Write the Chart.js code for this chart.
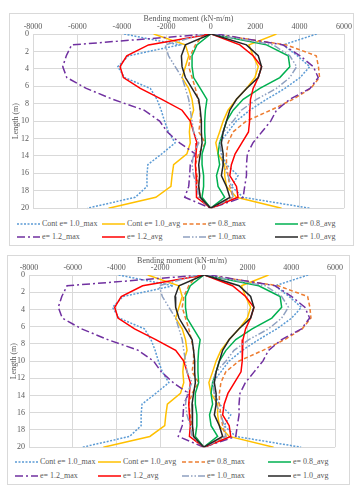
<!DOCTYPE html>
<html>
<head>
<meta charset="utf-8">
<script src="https://cdn.jsdelivr.net/npm/chart.js@4.4.1/dist/chart.umd.min.js"></script>
<style>
  body { margin: 0; background: #fff; width: 364px; height: 490px; position: relative; overflow: hidden; }
  .frame { position: absolute; border: 1px solid #d9d9d9; background: #fff; box-sizing: border-box; }
  .frame canvas { position: absolute; left: 0; top: 0; }
  .lg { position: absolute; font: 8px "Liberation Serif", serif; color: #595959; white-space: nowrap; display: flex; align-items: center; }
  .lg svg { margin-right: 2px; }
</style>
</head>
<body>
<div class="frame" id="f1" style="left:9px;top:13px;width:345px;height:233px;"><canvas id="c1"></canvas></div>
<div class="frame" id="f2" style="left:7px;top:255px;width:343px;height:230px;"><canvas id="c2"></canvas></div>
<script>
const depths = [0, 1.25, 2.5, 3.75, 5, 6.25, 7.5, 8.75, 10, 11.25, 12.5, 13.75, 15, 16.25, 17.5, 18.75, 20];
const xTicks = [-8000, -6000, -4000, -2000, 0, 2000, 4000, 6000];

// left / right envelopes (kN-m/m) at each depth
const contMaxL = [-3900, -1400, -3700, -4180, -3880, -2720, -2420, -2230, -2080, -1900, -1600, -2200, -2830, -2870, -2870, -3400, -5550];
const contMaxR = [4770, 3260, 3900, 4460, 4020, 3340, 2510, 1760, 1150, 780, 400, 480, 710, 1230, 930, 1460, 4450];
const contAvgL = [-2570, -1140, -990, -1140, -1290, -990, -840, -770, -920, -960, -920, -1070, -1670, -1740, -1790, -2470, -4600];
const contAvgR = [2960, 1720, 1910, 2140, 1990, 1610, 1160, 780, 560, 400, 230, 330, 630, 630, 710, 1160, 3190];
const e08MaxL = [-300, -690, -920, -990, -840, -690, -570, -470, -470, -540, -240, -540, -690, -620, -540, -470, 0];
const e08MaxR = [100, 3400, 4750, 4850, 4900, 4500, 3700, 2700, 1600, 1000, 780, 710, 710, 780, 860, 1000, 0];
const e08AvgL = [0, -620, -840, -840, -770, -470, -170, -240, -270, -270, -240, -390, -390, -320, -320, -390, 0];
const e08AvgR = [30, 2510, 3490, 3560, 3110, 2210, 1460, 1010, 710, 560, 400, 330, 400, 260, 330, 630, 0];
const e12MaxL = [-100, -6260, -6500, -6660, -6480, -5600, -4400, -3000, -2300, -1950, -1400, -700, -920, -950, -990, -1170, 0];
const e12MaxR = [260, 3260, 4020, 4620, 4840, 4470, 3560, 2960, 2700, 2300, 1900, 1650, 1610, 1610, 1530, 1460, 0];
const e12AvgL = [0, -2800, -3780, -4080, -3930, -3170, -2200, -1290, -920, -770, -620, -660, -690, -660, -620, -660, 0];
const e12AvgR = [30, 1310, 1910, 2290, 2140, 1910, 1790, 1760, 1750, 1700, 1400, 1100, 930, 860, 1160, 1230, 0];
const e10MaxL = [-300, -2050, -1900, -1600, -1290, -1140, -990, -920, -840, -770, -540, -770, -840, -770, -620, -540, 0];
const e10MaxR = [40, 2810, 3560, 3870, 3560, 2960, 2060, 1380, 1010, 560, 400, 480, 560, 780, 930, 1010, 0];
const e10AvgL = [0, -1140, -1320, -1290, -1140, -840, -540, -470, -420, -420, -390, -470, -540, -500, -540, -470, 0];
const e10AvgR = [30, 1610, 2140, 2290, 2140, 1610, 1160, 860, 710, 560, 480, 560, 560, 480, 710, 860, 0];

const labels = ["Cont e= 1.0_max", "Cont e= 1.0_avg", "e= 0.8_max", "e= 0.8_avg",
                "e= 1.2_max", "e= 1.2_avg", "e= 1.0_max", "e= 1.0_avg"];
const colors = ["#5B9BD5", "#FFC000", "#ED7D31", "#00B050", "#7030A0", "#FF0000", "#8EA0C0", "#262626"];
const dashes = [[2, 1.5], [], [4, 2.5], [], [8, 3, 2, 3], [], [7, 2, 1.5, 2, 1.5, 2], []];
const lefts = [contMaxL, contAvgL, e08MaxL, e08AvgL, e12MaxL, e12AvgL, e10MaxL, e10AvgL];
const rights = [contMaxR, contAvgR, e08MaxR, e08AvgR, e12MaxR, e12AvgR, e10MaxR, e10AvgR];

function points(l, r) {
  const pts = depths.map((d, i) => ({x: l[i], y: d}));
  pts.push({x: null, y: null});
  depths.forEach((d, i) => pts.push({x: r[i], y: d}));
  return pts;
}

const font = {family: "Liberation Serif", size: 8};
const grey = "#595959";

function makeChart(id, w, h, pad, yW, xH) {
  const cv = document.getElementById(id);
  cv.width = w; cv.height = h;
  cv.style.width = w + "px"; cv.style.height = h + "px";
  return new Chart(cv.getContext("2d"), {
    type: "scatter",
    data: {
      datasets: labels.map((lab, i) => ({
        label: lab,
        data: points(lefts[i], rights[i]),
        showLine: true,
        spanGaps: false,
        borderColor: colors[i],
        borderDash: dashes[i],
        borderWidth: 1.5,
        pointRadius: 0,
        tension: 0,
        fill: false
      })).reverse()
    },
    options: {
      responsive: false,
      animation: false,
      layout: {padding: pad, autoPadding: false},
      plugins: {legend: {display: false}, tooltip: {enabled: false}},
      scales: {
        x: {
          position: "top", min: -8000, max: 6000,
          afterBuildTicks: s => { s.ticks = xTicks.map(v => ({value: v})); },
          afterFit: s => { s.height = xH; },
          ticks: {font: font, color: grey, padding: 2, maxRotation: 0, callback: v => String(v)},
          grid: {color: "#d9d9d9", drawTicks: false},
          border: {color: "#d9d9d9"},
          title: {display: true, text: "Bending moment (kN-m/m)", font: font, color: grey, padding: 0}
        },
        y: {
          reverse: true, min: 0, max: 20,
          afterFit: s => { s.width = yW; },
          ticks: {stepSize: 2, font: font, color: grey, padding: 4, callback: v => String(v)},
          grid: {color: "#d9d9d9", drawTicks: false},
          border: {color: "#d9d9d9"},
          title: {display: true, text: "Length (m)", font: font, color: grey, padding: 0}
        }
      }
    }
  });
}

function makeLegend(frameId, cols, rows) {
  const f = document.getElementById(frameId);
  labels.forEach((lab, i) => {
    const d = document.createElement("div");
    d.className = "lg";
    d.style.left = cols[i % 4] + "px";
    d.style.top = (rows[Math.floor(i / 4)] - 5) + "px";
    const da = dashes[i].length ? dashes[i].join(" ") : "none";
    d.innerHTML = `<svg width="23" height="6"><line x1="0" y1="3" x2="23" y2="3" stroke="${colors[i]}" stroke-width="1.5" stroke-dasharray="${da}"/></svg><span>${lab}</span>`;
    f.appendChild(d);
  });
}

makeChart("c1", 344, 203, {left: 1, right: 9, top: 0, bottom: 5}, 22, 20);
makeChart("c2", 342, 200, {left: 1, right: 15, top: 0, bottom: 6}, 20, 19);
makeLegend("f1", [7, 92, 173, 265], [210, 223]);
makeLegend("f2", [7, 90, 174, 260], [206, 220]);
</script>
</body>
</html>
